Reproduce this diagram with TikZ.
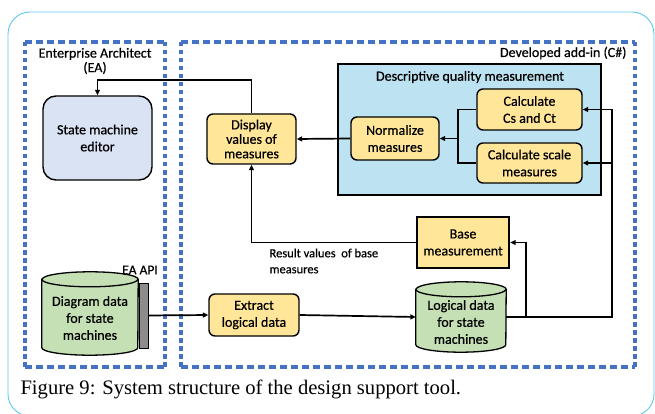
\documentclass[tikz,border=0pt]{standalone}
\usepackage{fontspec}
\setmainfont{Carlito}[FakeBold=0.6]
\newfontfamily\capfont{Liberation Serif}
\usetikzlibrary{arrows.meta,calc}

\definecolor{dashblue}{HTML}{4472C4}
\definecolor{boxyellow}{HTML}{FFE699}
\definecolor{cylgreen}{HTML}{C5E0B4}
\definecolor{editorblue}{HTML}{DAE3F3}
\definecolor{dqmblue}{HTML}{BDE3F2}
\definecolor{framecyan}{HTML}{5CC8EC}
\definecolor{apigray}{HTML}{8C8C8C}

% cylinder outline around a named (invisible) node: #1 node name, #2 ellipse half-height
\newcommand{\drawcyl}[2]{%
  \path[draw=black, line width=1.3pt, fill=cylgreen]
    ([yshift=-#2]#1.north west) -- ([yshift=#2]#1.south west)
    arc[start angle=180, end angle=360, x radius=0.5*\cylw, y radius=#2]
    -- ([yshift=-#2]#1.north east)
    arc[start angle=0, end angle=180, x radius=0.5*\cylw, y radius=#2] -- cycle;
  \draw[line width=1.3pt] ([yshift=-#2]#1.north west)
    arc[start angle=180, end angle=360, x radius=0.5*\cylw, y radius=#2];
}

\begin{document}
\begin{tikzpicture}[x=1pt, y=-1pt,
  txt/.style={font=\fontsize{14}{14.5}\selectfont, align=center},
  box/.style={txt, draw=black, line width=1.4pt, rounded corners=6pt, inner sep=0pt},
  ybox/.style={box, fill=boxyellow},
  cyl/.style={inner sep=0pt},
  cyltext/.style={txt},
  ln/.style={line width=1.7pt},
  arr/.style={line width=1.7pt, -{Triangle[length=5.5pt,width=5pt]}},
  hdash/.style={dashblue, line width=3.2pt, dash pattern=on 7pt off 4pt},
  vdash/.style={dashblue, line width=3.2pt, dash pattern=on 4.5pt off 3.5pt}]

\useasboundingbox (0,0) rectangle (655,414);

% outer frame
\begin{scope}
  \clip (0,0) rectangle (655,414);
  \draw[framecyan, line width=0.9pt, rounded corners=22pt] (8,12) rectangle (654,416);
\end{scope}

% Enterprise Architect region
\draw[hdash] (25,42) -- (165,42);
\draw[hdash] (25,367) -- (165,367);
\draw[vdash] (25,42) -- (25,367);
\draw[vdash] (165,42) -- (165,367);
\node[txt] (eatitle) at (95,61) {Enterprise Architect\\(EA)};

% add-in region
\draw[hdash] (181,42) -- (635,42);
\draw[hdash] (181,367) -- (635,367);
\draw[vdash] (181,42) -- (181,367);
\draw[vdash] (635,42) -- (635,367);
\node[txt, anchor=east] (addtitle) at (630,53) {Developed add-in (C\#)};

% descriptive quality measurement block
\node[draw=black, line width=2.4pt, fill=dqmblue, minimum width=263pt, minimum height=131pt, inner sep=0pt] (dqm) at (469.5,129.5) {};
\node[txt] (dqmtitle) at (470,77) {Descriptive quality measurement};

% process boxes
\node[box, fill=editorblue, rounded corners=13pt, minimum width=109pt, minimum height=84pt,
      font=\fontsize{14}{17}\selectfont] (sme) at (97.5,138) {State machine\\editor};
\node[ybox, minimum width=89pt, minimum height=50pt] (disp) at (251.5,139) {Display\\values of\\measures};
\node[ybox, minimum width=105pt, minimum height=41pt, font=\fontsize{14}{17}\selectfont] (cs) at (529.5,109.5) {Calculate\\Cs and Ct};
\node[ybox, minimum width=105pt, minimum height=40pt, font=\fontsize{14}{17}\selectfont] (scale) at (529.5,163) {Calculate scale\\measures};
\node[ybox, minimum width=88pt, minimum height=43pt, font=\fontsize{14}{17}\selectfont] (norm) at (395,138.5) {Normalize\\measures};
\node[ybox, rounded corners=0pt, line width=2.4pt, minimum width=92pt, minimum height=51pt, font=\fontsize{14}{17}\selectfont] (base) at (463,242.5) {Base\\measurement};
\node[ybox, minimum width=90pt, minimum height=42pt, font=\fontsize{14}{17}\selectfont] (extract) at (254,315) {Extract\\logical data};

% data stores
\def\cylw{96pt}
\node[cyl, minimum width=96pt, minimum height=83pt] (dd) at (90,313.5) {};
\drawcyl{dd}{7.5pt}
\node[cyltext, font=\fontsize{14}{17}\selectfont] (ddtext) at (90,318) {Diagram data\\for state\\machines};

\def\cylw{90pt}
\node[cyl, minimum width=90pt, minimum height=70pt] (ld) at (461,317) {};
\drawcyl{ld}{7.5pt}
\node[cyltext, font=\fontsize{14}{17}\selectfont] (ldtext) at (461,322) {Logical data\\for state\\machines};

% EA API connector
\node[draw=black, line width=0.8pt, fill=apigray, minimum width=9pt, minimum height=65pt, inner sep=0pt] (api) at (143.5,315.5) {};
\node[txt, font=\fontsize{13.5}{13.5}\selectfont] (apilabel) at (140,270) {EA API};

% connectors
\draw[arr] (disp.north) -- ++(0,33pt) -| (sme.north);
\draw[arr] (norm.west) -- (disp.east);
\coordinate (join) at (458,138.5);
\draw[ln] (cs.west) -| (join) |- (scale.west);
\draw[arr] (join) -- (norm.east);

\coordinate (rbend) at (612,317);
\draw[arr] (ld.east) -- (rbend) |- (cs.east);
\draw[arr] (rbend |- scale.east) -- (scale.east);
\coordinate (bbend) at (526,317);
\draw[arr] (bbend) |- (base.east);

\draw[arr] (base.west) -| (disp.south);
\node[font=\fontsize{12.5}{16}\selectfont, align=left, anchor=west] (result) at (266,261) {Result values\ \ of base\\measures};

\draw[arr] (api.east) -- (extract.west);
\draw[arr] (extract.east) -- (ld.west);

% caption
\node[font=\capfont\fontsize{20.6}{20.6}\selectfont, anchor=west] (caption) at (17,389) {Figure 9: System structure of the design support tool.};
\end{tikzpicture}
\end{document}
